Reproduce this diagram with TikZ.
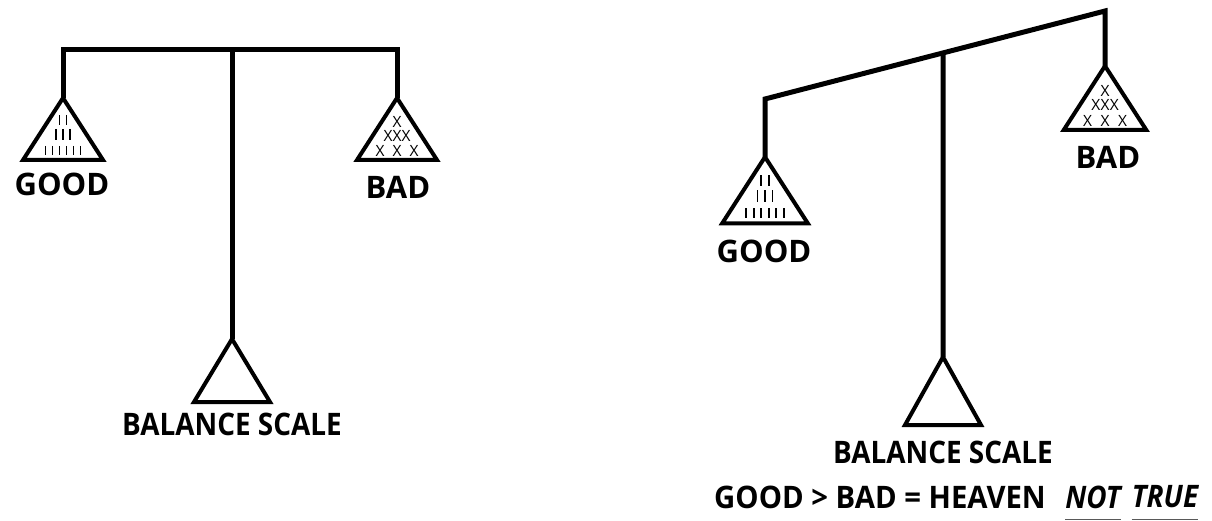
\documentclass[tikz,border=0pt]{standalone}
\usepackage{fontspec}
\setmainfont{Open Sans}
\newfontfamily\narrowsans{Open Sans}[FakeStretch=0.9]
\newfontfamily\verdictsans{Open Sans}[FakeStretch=0.945]
\usetikzlibrary{positioning,calc}

\begin{document}
\begin{tikzpicture}[x=1pt,y=-1pt,line join=miter,
 beam/.style={line width=5pt},
 rope/.style={line width=5pt},
 pan/.style={line width=4pt},
 tickmark/.style={line width=1.6pt},
 xmark/.style={font=\fontsize{15.5}{15.5}\selectfont,inner sep=0pt},
 caption/.style={font=\bfseries\fontsize{31}{31}\selectfont,inner sep=0pt},
 basecaption/.style={font=\narrowsans\bfseries\fontsize{31}{31}\selectfont,inner sep=0pt},
 slanted/.style={font=\narrowsans\bfseries\itshape\fontsize{31}{31}\selectfont,inner sep=0pt}]
 \useasboundingbox (0,0) rectangle (1212,521);

 % left scale, level
 \coordinate (lbeamL) at (63,50);
 \coordinate (lbeamR) at (397,50);
 \coordinate (lpivot) at (232,50);
 \coordinate (lgood) at (63,98);
 \coordinate (lbad) at (397,98);
 \coordinate (lbase) at (232,339);
 \draw[beam] (lgood) -- (lbeamL) -- (lbeamR) -- (lbad);
 \draw[rope] (lpivot) -- (lbase);
 \draw[pan] (lbase) -- ++(-38,63) -- ++(76,0) -- cycle;

 % right scale, tipped
 \coordinate (rbeamL) at (765,99);
 \coordinate (rbeamR) at (1105,11);
 \coordinate (rpivot) at ($(rbeamL)!0.5235!(rbeamR)$);
 \coordinate (rgood) at (765,157);
 \coordinate (rbad) at (1105,66);
 \coordinate (rbase) at (943,357);
 \draw[beam] (rgood) -- (rbeamL) -- (rbeamR) -- (rbad);
 \draw[rope] (rpivot) -- (rbase);
 \draw[pan] (rbase) -- ++(-38,68) -- ++(76,0) -- cycle;

 % pans with good deeds
 \foreach \p/\s in {lgood/1, rgood/1.07}{
  \begin{scope}[shift={(\p)},scale=\s]
   \draw[pan] (0,0) -- (-40,62) -- (40,62) -- cycle;
   \foreach \x in {-3.5,3.5} \draw[tickmark] (\x,17) -- (\x,27);
   \foreach \x in {-7,0,7} \draw[tickmark] (\x,31) -- (\x,42);
   \foreach \x in {-17.5,-10.5,-3.5,3.5,10.5,17.5} \draw[tickmark] (\x,48) -- (\x,57);
  \end{scope}
 }
 % pans with bad deeds
 \foreach \p/\s in {lbad/1, rbad/1.03}{
  \begin{scope}[shift={(\p)},scale=\s]
   \draw[pan] (0,0) -- (-40,62) -- (40,62) -- cycle;
   \node[xmark] at (0,24) {X};
   \foreach \x in {-9,0,9} \node[xmark] at (\x,38) {X};
   \foreach \x in {-17,0,17} \node[xmark] at (\x,53) {X};
  \end{scope}
 }

 \node[caption] (lgoodtxt) at (62,184) {GOOD};
 \node[caption] (lbadtxt) at (398,187) {BAD};
 \node[basecaption] (lbasetxt) at (232,424) {BALANCE SCALE};
 \node[caption] (rgoodtxt) at (764,251) {GOOD};
 \node[caption] (rbadtxt) at (1108,157) {BAD};
 \node[basecaption] (rbasetxt) at (943,452) {BALANCE SCALE};

 \node[caption,font=\verdictsans\bfseries\fontsize{31}{31}\selectfont] (verdict) at (880,497) {GOOD > BAD = HEAVEN};
 \node[slanted] (nottxt) at (1093,497) {NOT};
 \node[slanted] (truetxt) at (1165,497) {TRUE};
 \draw[gray!70!black,line width=1.5pt] ([yshift=-11pt]nottxt.south west) -- ([yshift=-11pt]nottxt.south east);
 \draw[gray!70!black,line width=1.5pt] ([yshift=-11pt]truetxt.south west) -- ([yshift=-11pt]truetxt.south east);
\end{tikzpicture}
\end{document}
